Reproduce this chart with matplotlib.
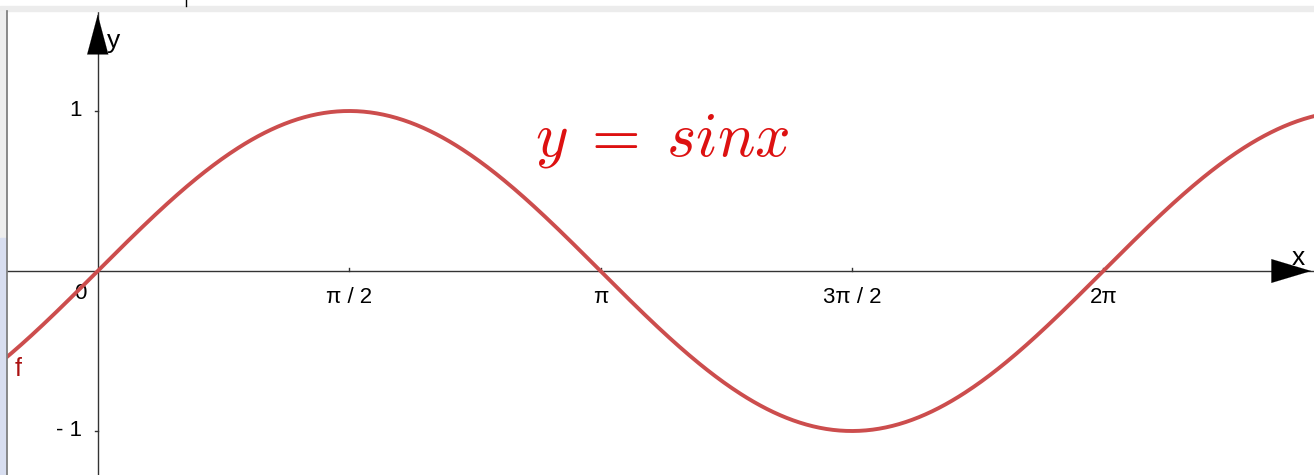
import numpy as np
import matplotlib
matplotlib.use("Agg")
import matplotlib.pyplot as plt
from matplotlib.patches import Rectangle

plt.rcParams['mathtext.fontset'] = 'cm'

# the function y = sin x over the visible window
x = np.linspace(-0.6, 7.65, 800)
y = np.sin(x)

tick_pos = [np.pi / 2, np.pi, 3 * np.pi / 2, 2 * np.pi]
tick_labels = ["π / 2", "π", "3π / 2", "2π"]
ytick_pos = [1, -1]
ytick_labels = ["1", "- 1"]

xmin, xmax = -0.567, 7.60
ymin, ymax = -1.275, 1.625

W, H = 1314, 475
fig = plt.figure(figsize=(W / 100, H / 100), dpi=100)
fig.patch.set_facecolor("white")

# window chrome: grey strip on top, grey panel on the left
fig.patches.append(Rectangle((0, 1 - 11 / H), 1, 5 / H, transform=fig.transFigure,
                             color="#ececec", zorder=0))
fig.patches.append(Rectangle((0, 0), 6 / W, 1 - 11 / H, transform=fig.transFigure,
                             color="#eeeeee", zorder=0))
fig.patches.append(Rectangle((0, 0), 6 / W, 0.5, transform=fig.transFigure,
                             color="#d8def0", zorder=0))
fig.add_artist(plt.Line2D([6.5 / W, 6.5 / W], [0, 1 - 11 / H], color="#777777", lw=1.2))
fig.add_artist(plt.Line2D([185.5 / W, 185.5 / W], [1 - 6 / H, 1], color="black", lw=1))

ax = fig.add_axes([7 / W, 0, 1 - 7 / W, 1 - 11 / H])
ax.set_xlim(xmin, xmax)
ax.set_ylim(ymin, ymax)
ax.axis("off")

lab_font = dict(fontsize=16, family="Liberation Sans")

# axes with arrowheads
ax.plot([xmin, xmax], [0, 0], color="#333333", lw=1, zorder=2)
ax.plot([0, 0], [ymin, ymax], color="#333333", lw=1, zorder=2)
ax.annotate("", xy=(xmax, 0), xytext=(xmax - 0.2, 0),
            arrowprops=dict(arrowstyle="-|>,head_length=1.5,head_width=0.45",
                            color="black", lw=0.1, mutation_scale=19), zorder=3)
ax.annotate("", xy=(0, ymax - 0.005), xytext=(0, ymax - 0.2),
            arrowprops=dict(arrowstyle="-|>,head_length=1.5,head_width=0.4",
                            color="black", lw=0.1, mutation_scale=19), zorder=3)

# tick marks and labels
for t, lab in zip(tick_pos, tick_labels):
    ax.plot([t, t], [0, 0.02], color="#333333", lw=1)
    ax.text(t, -0.165, lab, ha="center", va="center", **lab_font)
for t, lab in zip(ytick_pos, ytick_labels):
    ax.plot([-0.02, 0], [t, t], color="#333333", lw=1)
    ax.text(-0.1, t, lab, ha="right", va="center", **lab_font)
ax.text(-0.07, -0.14, "0", ha="right", va="center", **lab_font)
ax.text(0.06, 1.44, "y", ha="left", va="center", fontsize=19, family="Liberation Sans")
ax.text(7.5, 0.08, "x", ha="center", va="center", fontsize=19, family="Liberation Sans")

# the curve
ax.plot(x, y, color="#cc4d4d", lw=2.8, zorder=4, solid_capstyle="butt")
ax.text(-0.5, -0.61, "f", ha="center", va="center", fontsize=18, color="#aa1111",
        family="Liberation Sans")

ax.text(2.73, 0.82, r"$y\;=\;sinx$", ha="left", va="center", fontsize=45, color="#dd1111")

fig.savefig("out.png", dpi=100)
